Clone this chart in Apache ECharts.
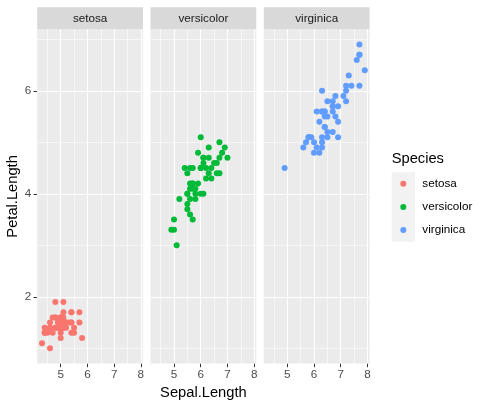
<!DOCTYPE html>
<html><head><meta charset="utf-8">
<script src="https://cdn.jsdelivr.net/npm/echarts@6/dist/echarts.min.js"></script>
<style>html,body{margin:0;padding:0;background:#fff}#c{width:487px;height:406px}</style>
</head><body><div id="c"></div><script>
const species = ['setosa', 'versicolor', 'virginica'];
const colors = ['#F8766D', '#00BA38', '#619CFF'];
const setosaSepal = [5.1,4.9,4.7,4.6,5.0,5.4,4.6,5.0,4.4,4.9,5.4,4.8,4.8,4.3,5.8,5.7,5.4,5.1,5.7,5.1,5.4,5.1,4.6,5.1,4.8,5.0,5.0,5.2,5.2,4.7,4.8,5.4,5.2,5.5,4.9,5.0,5.5,4.9,4.4,5.1,5.0,4.5,4.4,5.0,5.1,4.8,5.1,4.6,5.3,5.0];
const setosaPetal = [1.4,1.4,1.3,1.5,1.4,1.7,1.4,1.5,1.4,1.5,1.5,1.6,1.4,1.1,1.2,1.5,1.3,1.4,1.7,1.5,1.7,1.5,1.0,1.7,1.9,1.6,1.6,1.5,1.4,1.6,1.6,1.5,1.5,1.4,1.5,1.2,1.3,1.4,1.3,1.5,1.3,1.3,1.3,1.6,1.9,1.4,1.6,1.4,1.5,1.4];
const versicolorSepal = [7.0,6.4,6.9,5.5,6.5,5.7,6.3,4.9,6.6,5.2,5.0,5.9,6.0,6.1,5.6,6.7,5.6,5.8,6.2,5.6,5.9,6.1,6.3,6.1,6.4,6.6,6.8,6.7,6.0,5.7,5.5,5.5,5.8,6.0,5.4,6.0,6.7,6.3,5.6,5.5,5.5,6.1,5.8,5.0,5.6,5.7,5.7,6.2,5.1,5.7];
const versicolorPetal = [4.7,4.5,4.9,4.0,4.6,4.5,4.7,3.3,4.6,3.9,3.5,4.2,4.0,4.7,3.6,4.4,4.5,4.1,4.5,3.9,4.8,4.0,4.9,4.7,4.3,4.4,4.8,5.0,4.5,3.5,3.8,3.7,3.9,5.1,4.5,4.5,4.7,4.4,4.1,4.0,4.4,4.6,4.0,3.3,4.2,4.2,4.2,4.3,3.0,4.1];
const virginicaSepal = [6.3,5.8,7.1,6.3,6.5,7.6,4.9,7.3,6.7,7.2,6.5,6.4,6.8,5.7,5.8,6.4,6.5,7.7,7.7,6.0,6.9,5.6,7.7,6.3,6.7,7.2,6.2,6.1,6.4,7.2,7.4,7.9,6.4,6.3,6.1,7.7,6.3,6.4,6.0,6.9,6.7,6.9,5.8,6.8,6.7,6.7,6.3,6.5,6.2,5.9];
const virginicaPetal = [6.0,5.1,5.9,5.6,5.8,6.6,4.5,6.3,5.8,6.1,5.1,5.3,5.5,5.0,5.1,5.3,5.5,6.7,6.9,5.0,5.7,4.9,6.7,4.9,5.7,6.0,4.8,4.9,5.6,5.8,6.1,6.4,5.6,5.1,5.6,6.1,5.6,5.5,4.8,5.4,5.6,5.1,5.1,5.9,5.7,5.2,5.0,5.2,5.4,5.1];
const xTicks = [5, 6, 7, 8];
const yTicks = [2, 4, 6];
const xMinor = [4.5, 5.5, 6.5, 7.5];
const yMinor = [1, 3, 5, 7];
const xTitle = 'Sepal.Length';
const yTitle = 'Petal.Length';
const legendTitle = 'Species';

const xs = [setosaSepal, versicolorSepal, virginicaSepal];
const ys = [setosaPetal, versicolorPetal, virginicaPetal];
const allX = [].concat(...xs), allY = [].concat(...ys);
function expand(a) { const lo = Math.min(...a), hi = Math.max(...a), d = (hi - lo) * 0.05; return [lo - d, hi + d]; }
const xr = expand(allX), yr = expand(allY);

const FONT = 'Liberation Sans, Arial, Helvetica, sans-serif';
const P_LEFT = 37.2, P_STEP = 113.3, P_W = 105.8, P_TOP = 29.3, P_H = 334.2, STRIP_H = 22;

const grids = [], xAxes = [], yAxes = [], series = [], graphics = [];
species.forEach((sp, i) => {
  const left = P_LEFT + i * P_STEP;
  grids.push({ left: left, top: P_TOP, width: P_W, height: P_H, containLabel: false, outerBoundsMode: 'none',
    show: true, backgroundColor: '#EBEBEB', borderWidth: 0 });
  xAxes.push({
    type: 'value', gridIndex: i, min: xr[0], max: xr[1],
    axisLine: { show: false, onZero: false },
    axisTick: { show: true, length: 3.7, customValues: xTicks, lineStyle: { color: '#333333', width: 1 } },
    axisLabel: { show: true, customValues: xTicks, color: '#4D4D4D', fontSize: 11.7, fontFamily: FONT, margin: 5 },
    splitLine: { show: false },
    name: i === 1 ? xTitle : '', nameLocation: 'middle', nameGap: 20,
    nameTextStyle: { color: '#000', fontSize: 14.7, fontFamily: FONT }
  });
  yAxes.push({
    type: 'value', gridIndex: i, min: yr[0], max: yr[1],
    axisLine: { show: false, onZero: false },
    axisTick: { show: i === 0, length: 3.7, customValues: yTicks, lineStyle: { color: '#333333', width: 1 } },
    axisLabel: { show: i === 0, customValues: yTicks, color: '#4D4D4D', fontSize: 11.7, fontFamily: FONT, margin: 6 },
    splitLine: { show: false },
    name: i === 0 ? yTitle : '', nameLocation: 'middle', nameGap: 17,
    nameTextStyle: { color: '#000', fontSize: 14.7, fontFamily: FONT }
  });
  const lines = [];
  xMinor.forEach(v => lines.push({ xAxis: v, lineStyle: { color: '#FFFFFF', width: 0.55, type: 'solid' } }));
  yMinor.forEach(v => lines.push({ yAxis: v, lineStyle: { color: '#FFFFFF', width: 0.55, type: 'solid' } }));
  xTicks.forEach(v => lines.push({ xAxis: v, lineStyle: { color: '#FFFFFF', width: 1.1, type: 'solid' } }));
  yTicks.forEach(v => lines.push({ yAxis: v, lineStyle: { color: '#FFFFFF', width: 1.1, type: 'solid' } }));
  series.push({
    type: 'scatter', name: sp, xAxisIndex: i, yAxisIndex: i, z: 3,
    data: xs[i].map((x, k) => [x, ys[i][k]]),
    symbol: 'circle', symbolSize: 6,
    itemStyle: { color: colors[i], opacity: 1 },
    emphasis: { disabled: true },
    markLine: { silent: true, z: 1, animation: false, symbol: ['none', 'none'], label: { show: false },
      emphasis: { disabled: true }, data: lines }
  });
  graphics.push({ type: 'rect', left: left, top: P_TOP - STRIP_H, silent: true,
    shape: { width: P_W, height: STRIP_H }, style: { fill: '#D9D9D9' } });
  graphics.push({ type: 'text', x: left + P_W / 2, y: P_TOP - STRIP_H / 2, silent: true,
    style: { text: sp, fill: '#1A1A1A', fontSize: 11.7, fontFamily: FONT, align: 'center', verticalAlign: 'middle' } });
});
graphics.push({ type: 'rect', left: 391.7, top: 172.3, silent: true, z: 0,
  shape: { width: 23.3, height: 69.4 }, style: { fill: '#F2F2F2' } });
graphics.push({ type: 'text', x: 391.7, y: 159, silent: true,
  style: { text: legendTitle, fill: '#000', fontSize: 14.7, fontFamily: FONT, align: 'left', verticalAlign: 'middle' } });

const chart = echarts.init(document.getElementById('c'), null, { renderer: 'canvas' });
chart.setOption({
  animation: false,
  backgroundColor: '#FFFFFF',
  grid: grids, xAxis: xAxes, yAxis: yAxes, series: series,
  legend: {
    data: species, orient: 'vertical', left: 400.3, top: 172.3, padding: 0, itemGap: 0,
    itemWidth: 6, itemHeight: 6, icon: 'circle', selectedMode: false,
    textStyle: { color: '#000', fontSize: 11.7, fontFamily: FONT, lineHeight: 23.1, padding: [0, 0, 0, 11] }
  },
  graphic: graphics
});
</script></body></html>
